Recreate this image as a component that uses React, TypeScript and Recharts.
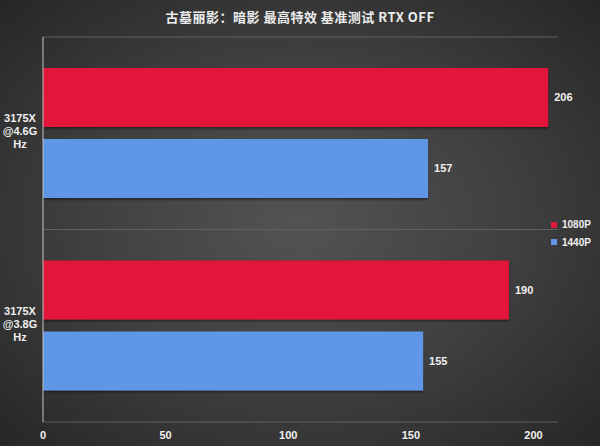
import React from "react";
import {
  BarChart,
  Bar,
  XAxis,
  YAxis,
  CartesianGrid,
  Legend,
  LabelList,
} from "recharts";

const CATEGORIES = ["3175X@4.6GHz", "3175X@3.8GHz"];
const FPS_1080P = [206, 190];
const FPS_1440P = [157, 155];
const X_TICKS = [0, 50, 100, 150, 200];

const TITLE = "古墓丽影：暗影 最高特效 基准测试 RTX OFF";
const RED = "#e2193b";
const BLUE = "#5f96e6";
const FONT = '"Liberation Sans", Arial, sans-serif';

const data = CATEGORIES.map((name, i) => ({
  name,
  p1080: FPS_1080P[i],
  p1440: FPS_1440P[i],
}));

// wrap "3175X@4.6GHz" into 5-char rows like the source
const CategoryTick = (props: any) => {
  const { x, y, payload } = props;
  const text: string = payload.value;
  const rows: string[] = [];
  for (let i = 0; i < text.length; i += 5) rows.push(text.slice(i, i + 5));
  const start = y - ((rows.length - 1) * 13) / 2 - 2;
  const cx = x - 15;
  return (
    <text
      x={cx}
      y={start}
      textAnchor="middle"
      fill="#f0f0f0"
      fontSize={11}
      fontWeight="bold"
      fontFamily={FONT}
    >
      {rows.map((r, i) => (
        <tspan key={i} x={cx} y={start + i * 13} dy="0.36em">
          {r}
        </tspan>
      ))}
    </text>
  );
};

const renderLegend = (props: any) => {
  const { payload } = props;
  return (
    <div>
      {payload.map((entry: any) => (
        <div
          key={entry.value}
          style={{
            display: "flex",
            alignItems: "center",
            height: 17.5,
            fontFamily: FONT,
            fontSize: 10,
            fontWeight: "bold",
            color: "#f0f0f0",
          }}
        >
          <span
            style={{
              display: "inline-block",
              width: 6,
              height: 6,
              background: entry.color,
              marginRight: 5,
            }}
          />
          {entry.value}
        </div>
      ))}
    </div>
  );
};

export default function App() {
  return (
    <div
      style={{
        position: "absolute",
        left: 0,
        top: 0,
        width: 600,
        height: 446,
        background:
          "radial-gradient(ellipse at 50% 50%, #535353 0%, #404040 50%, #262626 100%)",
        overflow: "hidden",
      }}
    >
      <div
        style={{
          position: "absolute",
          top: 7,
          left: 0,
          width: 600,
          textAlign: "center",
          fontFamily: '"Noto Sans CJK SC", sans-serif',
          fontWeight: "bold",
          fontSize: 13,
          color: "#ececec",
          letterSpacing: 0.5,
        }}
      >
        {TITLE}
      </div>
      <BarChart
        width={600}
        height={446}
        data={data}
        layout="vertical"
        margin={{ top: 37, right: 42, bottom: 0, left: 0 }}
        barCategoryGap={31}
        barGap={12}
      >
        <defs>
          <filter id="barShadow" x="-5%" y="-10%" width="110%" height="130%">
            <feDropShadow dx="0" dy="1.5" stdDeviation="1" floodColor="#000" floodOpacity="0.5" />
          </filter>
        </defs>
        <CartesianGrid
          vertical={false}
          stroke="#606060"
          horizontalCoordinatesGenerator={({ offset }: any) => [
            offset.top,
            offset.top + offset.height / 2,
            offset.top + offset.height,
          ]}
        />
        <XAxis
          type="number"
          domain={[0, 210]}
          ticks={X_TICKS}
          axisLine={false}
          tickLine={false}
          height={24}
          tickMargin={3}
          tick={{ fill: "#f0f0f0", fontSize: 11, fontWeight: "bold", fontFamily: FONT }}
        />
        <YAxis
          type="category"
          dataKey="name"
          width={43}
          axisLine={{ stroke: "#c4c4c4" }}
          tickLine={false}
          tick={<CategoryTick />}
        />
        <Legend
          layout="horizontal"
          verticalAlign="middle"
          align="center"
          content={renderLegend}
          wrapperStyle={{ position: "absolute", left: 551, top: 216, width: 60 }}
        />
        <Bar dataKey="p1080" name="1080P" fill={RED} isAnimationActive={false} filter="url(#barShadow)">
          <LabelList
            dataKey="p1080"
            position="right"
            offset={6}
            fill="#f0f0f0"
            fontSize={11}
            fontWeight="bold"
            fontFamily={FONT}
          />
        </Bar>
        <Bar dataKey="p1440" name="1440P" fill={BLUE} isAnimationActive={false} filter="url(#barShadow)">
          <LabelList
            dataKey="p1440"
            position="right"
            offset={6}
            fill="#f0f0f0"
            fontSize={11}
            fontWeight="bold"
            fontFamily={FONT}
          />
        </Bar>
      </BarChart>
    </div>
  );
}
